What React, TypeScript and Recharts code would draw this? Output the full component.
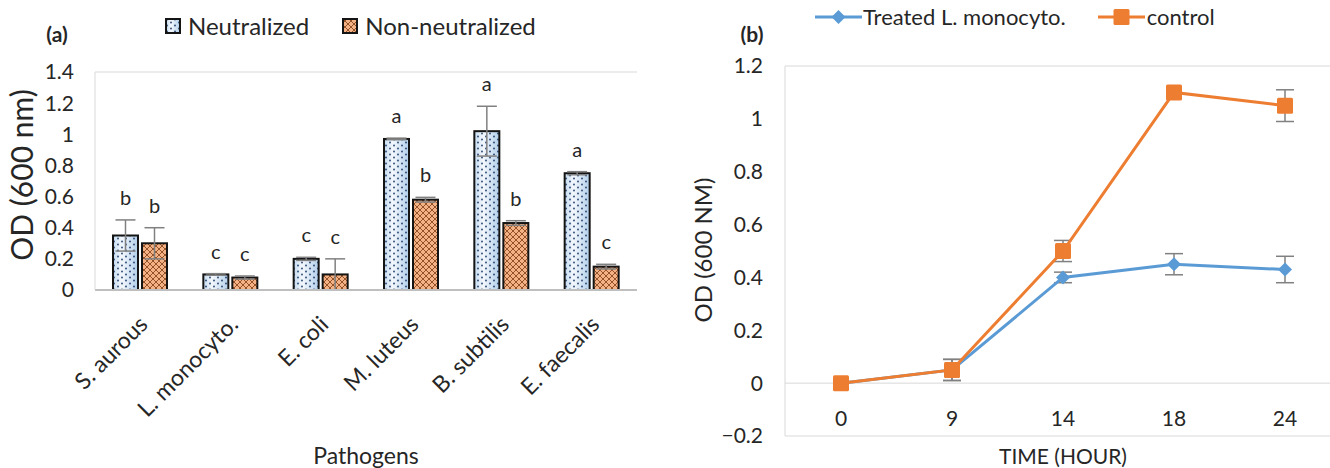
import React from "react";
import {
  BarChart, Bar, XAxis, YAxis, ErrorBar, LabelList, ReferenceLine,
  LineChart, Line,
} from "recharts";

// (a) OD of pathogens, neutralized vs non-neutralized supernatant
const pathogens = ["S. aurous", "L. monocyto.", "E. coli", "M. luteus", "B. subtilis", "E. faecalis"];
const neutralized = [0.35, 0.1, 0.2, 0.97, 1.02, 0.75];
const neutralizedErr = [0.1, 0.005, 0.01, 0.005, 0.16, 0.01];
const neutralizedLetters = ["b", "c", "c", "a", "a", "a"];
const nonNeutralized = [0.3, 0.08, 0.1, 0.58, 0.43, 0.15];
const nonNeutralizedErr = [0.1, 0.01, 0.1, 0.015, 0.015, 0.015];
const nonNeutralizedLetters = ["b", "c", "c", "b", "b", "c"];
const barTicks = [0, 0.2, 0.4, 0.6, 0.8, 1, 1.2, 1.4];

// (b) growth curve
const hours = ["0", "9", "14", "18", "24"];
const treated = [0, 0.05, 0.4, 0.45, 0.43];
const treatedErr = [0, 0.04, 0.02, 0.04, 0.05];
const control = [0, 0.05, 0.5, 1.1, 1.05];
const controlErr = [0, 0.04, 0.04, 0, 0.06];
const lineTicks = [-0.2, 0, 0.2, 0.4, 0.6, 0.8, 1, 1.2];

const barData = pathogens.map((name, i) => ({
  name,
  neutralized: neutralized[i],
  neutralizedErr: neutralizedErr[i],
  nonNeutralized: nonNeutralized[i],
  nonNeutralizedErr: nonNeutralizedErr[i],
}));

const lineData = hours.map((hour, i) => ({
  hour,
  treated: treated[i],
  treatedErr: treatedErr[i],
  control: control[i],
  controlErr: controlErr[i],
}));

const BLUE = "#5B9BD5";
const ORANGE = "#ED7D31";
const TEXT = "#262626";
const FRAME = "#d9d9d9";
const ERR = "#808080";

const fmt = (v: number) => {
  const r = Math.round(v * 10) / 10;
  if (r === 0) return "0";
  return r < 0 ? "\u2212" + String(-r) : String(r);
};

const Patterns = () => (
  <svg width={0} height={0} style={{ position: "absolute" }}>
    <defs>
      <linearGradient id="blueGrad" x1="0" y1="0" x2="1" y2="0">
        <stop offset="0%" stopColor="#c3daf0" />
        <stop offset="35%" stopColor="#f4f8fd" />
        <stop offset="100%" stopColor="#b2cfeb" />
      </linearGradient>
      <pattern id="blueDots" width="8" height="6" patternUnits="userSpaceOnUse">
        <circle cx="2" cy="1.5" r="0.9" fill="#24416b" />
        <circle cx="6" cy="4.5" r="0.9" fill="#24416b" />
      </pattern>
      <pattern id="orangeHatch" width="6" height="6" patternUnits="userSpaceOnUse">
        <rect width="6" height="6" fill="#f4b183" />
        <path d="M-1,-1 L7,7 M7,-1 L-1,7" stroke="#7a3a12" strokeWidth="0.8" />
      </pattern>
    </defs>
  </svg>
);

const NeutralizedShape = (p: any) => {
  const { x, y, width, height } = p;
  if (!height) return null;
  return (
    <g>
      <rect x={x} y={y} width={width} height={height} fill="url(#blueGrad)" />
      <rect x={x} y={y} width={width} height={height} fill="url(#blueDots)" />
      <rect x={x} y={y} width={width} height={height} fill="none" stroke="#141414" strokeWidth={2} />
    </g>
  );
};

const NonNeutralizedShape = (p: any) => {
  const { x, y, width, height } = p;
  if (!height) return null;
  return (
    <g>
      <rect x={x} y={y} width={width} height={height} fill="url(#orangeHatch)" />
      <rect x={x} y={y} width={width} height={height} fill="none" stroke="#141414" strokeWidth={2} />
    </g>
  );
};

// significance letter sits just above the error bar cap
const letterLabel = (vals: number[], errs: number[], letters: string[]) => (p: any) => {
  const vb = p.viewBox || p;
  const x = Number(vb.x ?? p.x);
  const y = Number(vb.y ?? p.y);
  const w = Number(vb.width ?? p.width);
  const h = Number(vb.height ?? p.height);
  const i = p.index;
  if (i == null || !vals[i]) return null;
  const pxPerUnit = Math.abs(h) / vals[i];
  const top = Math.min(y, y + h) - errs[i] * pxPerUnit;
  return (
    <text key={`l-${i}`} x={x + w / 2} y={top - 15} textAnchor="middle" fontSize={20} fill={TEXT}>
      {letters[i]}
    </text>
  );
};

// rotated category label, laid out along a 45° path ending just below the axis
const PathogenTick = (p: any) => {
  const { x, y, payload, index } = p;
  const ex = x + 9;
  const ey = y + 28;
  const len = 240;
  const id = `pt-path-${index}`;
  const d = `M ${ex - len * Math.SQRT1_2} ${ey + len * Math.SQRT1_2} L ${ex} ${ey}`;
  return (
    <g>
      <path id={id} d={d} fill="none" stroke="none" />
      <text fontSize={23} fill={TEXT}>
        <textPath href={`#${id}`} xlinkHref={`#${id}`} startOffset="100%" textAnchor="end">
          {payload.value}
        </textPath>
      </text>
    </g>
  );
};

const HourTick = (p: any) => {
  const { x, y, payload } = p;
  return (
    <text x={x} y={y - 27} textAnchor="middle" dominantBaseline="central" fontSize={21} fill={TEXT}>
      {payload.value}
    </text>
  );
};

const Diamond = (p: any) => {
  const { cx, cy, index } = p;
  if (cx == null || cy == null) return <g key={`d-${index}`} />;
  const r = 7;
  return (
    <polygon key={`d-${index}`} points={`${cx},${cy - r} ${cx + r},${cy} ${cx},${cy + r} ${cx - r},${cy}`} fill={BLUE} />
  );
};

const Square = (p: any) => {
  const { cx, cy, index } = p;
  if (cx == null || cy == null) return <g key={`s-${index}`} />;
  const s = 16;
  return <rect key={`s-${index}`} x={cx - s / 2} y={cy - s / 2} width={s} height={s} rx={1.5} fill={ORANGE} />;
};

const centered = (left: number, top: number, extra: React.CSSProperties = {}): React.CSSProperties => ({
  position: "absolute",
  left,
  top,
  transform: "translate(-50%, -50%)",
  whiteSpace: "nowrap",
  lineHeight: 1,
  color: TEXT,
  ...extra,
});

export default function App() {
  return (
    <div
      style={{
        position: "absolute", left: 0, top: 0, width: 1330, height: 468,
        overflow: "hidden", background: "#fff", fontFamily: "Lato, 'Open Sans', sans-serif",
      }}
    >
      <Patterns />

      {/* ---------- (a) bar chart ---------- */}
      <div style={{ position: "absolute", left: 0, top: 0 }}>
        <BarChart width={660} height={468} data={barData} margin={{ top: 72, right: 23, left: 0, bottom: 0 }}
          barSize={25} barGap={4}>
          <XAxis dataKey="name" height={178} interval={0} tickLine={false}
            axisLine={{ stroke: "#bfbfbf", strokeWidth: 2 }} tick={PathogenTick} />
          <YAxis width={95} domain={[0, 1.4]} ticks={barTicks} tickFormatter={fmt} interval={0}
            tickLine={false} axisLine={{ stroke: FRAME }} tickMargin={15}
            tick={{ fontSize: 21, fill: TEXT }} />
          <YAxis yAxisId="frame" orientation="right" width={0} domain={[0, 1.4]} tick={false}
            tickLine={false} axisLine={{ stroke: FRAME }} />
          <ReferenceLine y={1.4} stroke={FRAME} />
          <Bar dataKey="neutralized" name="Neutralized" shape={<NeutralizedShape />} isAnimationActive={false}>
            <ErrorBar dataKey="neutralizedErr" width={10} stroke={ERR} strokeWidth={1.5} />
            <LabelList dataKey="neutralized" content={letterLabel(neutralized, neutralizedErr, neutralizedLetters)} />
          </Bar>
          <Bar dataKey="nonNeutralized" name="Non-neutralized" shape={<NonNeutralizedShape />} isAnimationActive={false}>
            <ErrorBar dataKey="nonNeutralizedErr" width={10} stroke={ERR} strokeWidth={1.5} />
            <LabelList dataKey="nonNeutralized" content={letterLabel(nonNeutralized, nonNeutralizedErr, nonNeutralizedLetters)} />
          </Bar>
        </BarChart>
      </div>

      <div style={centered(57, 33, { fontSize: 21, fontWeight: 700 })}>(a)</div>
      <div style={{ position: "absolute", left: 165, top: 14, display: "flex", alignItems: "center", gap: 33, fontSize: 24, color: TEXT, lineHeight: 1 }}>
        <div style={{ display: "flex", alignItems: "center", gap: 7 }}>
          <svg width={16} height={16}>
            <rect x={1} y={1} width={14} height={14} fill="url(#blueGrad)" />
            <rect x={1} y={1} width={14} height={14} fill="url(#blueDots)" />
            <rect x={1} y={1} width={14} height={14} fill="none" stroke="#141414" strokeWidth={2} />
          </svg>
          <span>Neutralized</span>
        </div>
        <div style={{ display: "flex", alignItems: "center", gap: 7 }}>
          <svg width={16} height={16}>
            <rect x={1} y={1} width={14} height={14} fill="url(#orangeHatch)" stroke="#141414" strokeWidth={2} />
          </svg>
          <span>Non-neutralized</span>
        </div>
      </div>
      <div style={centered(21, 175, { fontSize: 30, transform: "translate(-50%, -50%) rotate(-90deg)" })}>OD (600 nm)</div>
      <div style={centered(366, 455, { fontSize: 23 })}>Pathogens</div>

      {/* ---------- (b) line chart ---------- */}
      <div style={{ position: "absolute", left: 660, top: 0 }}>
        <LineChart width={700} height={468} data={lineData} margin={{ top: 66, right: 19, left: 0, bottom: 0 }}>
          <XAxis dataKey="hour" height={32} padding={{ left: 56, right: 56 }} tickLine={false}
            axisLine={{ stroke: FRAME }} tick={<HourTick />} interval={0} />
          <YAxis width={125} domain={[-0.2, 1.2]} ticks={lineTicks} tickFormatter={fmt} interval={0}
            tickLine={false} axisLine={{ stroke: FRAME }} tickMargin={16}
            tick={{ fontSize: 21, fill: TEXT }} />
          <ReferenceLine y={1.2} stroke={FRAME} />
          <ReferenceLine y={0} stroke={FRAME} />
          <Line dataKey="treated" name="Treated L. monocyto." stroke={BLUE} strokeWidth={3}
            dot={Diamond} activeDot={false} isAnimationActive={false}>
            <ErrorBar dataKey="treatedErr" direction="y" width={9} stroke={ERR} strokeWidth={1.5} />
          </Line>
          <Line dataKey="control" name="control" stroke={ORANGE} strokeWidth={3}
            dot={Square} activeDot={false} isAnimationActive={false}>
            <ErrorBar dataKey="controlErr" direction="y" width={9} stroke={ERR} strokeWidth={1.5} />
          </Line>
        </LineChart>
      </div>

      <div style={centered(752, 33, { fontSize: 21, fontWeight: 700 })}>(b)</div>
      <div style={{ position: "absolute", left: 815, top: 6, display: "flex", alignItems: "center", gap: 32, fontSize: 22, color: TEXT, lineHeight: 1 }}>
        <div style={{ display: "flex", alignItems: "center", gap: 1 }}>
          <svg width={47} height={18}>
            <line x1={0} y1={9} x2={47} y2={9} stroke={BLUE} strokeWidth={3} />
            <polygon points="23.5,2 30.5,9 23.5,16 16.5,9" fill={BLUE} />
          </svg>
          <span>Treated L. monocyto.</span>
        </div>
        <div style={{ display: "flex", alignItems: "center", gap: 2 }}>
          <svg width={47} height={18}>
            <line x1={0} y1={9} x2={47} y2={9} stroke={ORANGE} strokeWidth={3} />
            <rect x={15.5} y={1} width={16} height={16} rx={1.5} fill={ORANGE} />
          </svg>
          <span>control</span>
        </div>
      </div>
      <div style={centered(703, 250, { fontSize: 24, transform: "translate(-50%, -50%) rotate(-90deg)" })}>OD (600 NM)</div>
      <div style={centered(1063, 455, { fontSize: 21 })}>TIME (HOUR)</div>
    </div>
  );
}
